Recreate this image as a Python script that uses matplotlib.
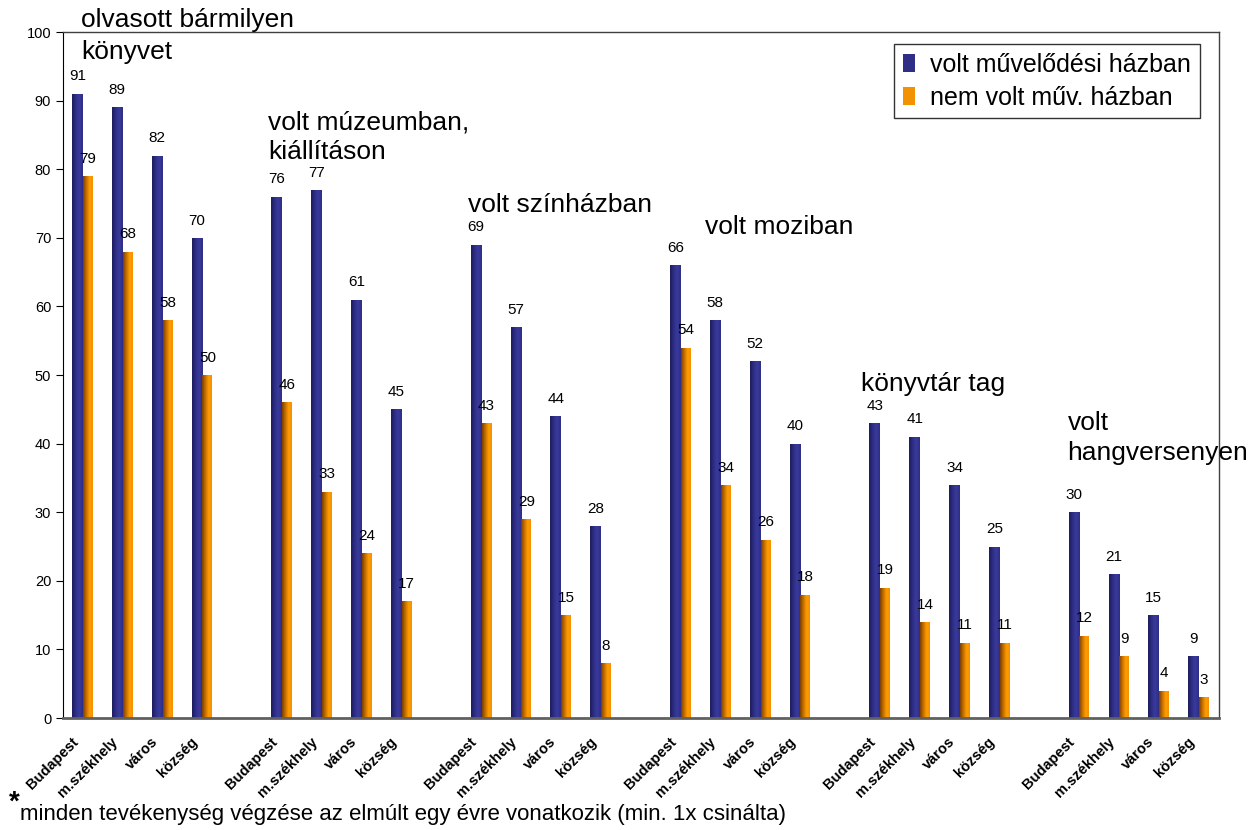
import numpy as np
import matplotlib.pyplot as plt
import matplotlib.transforms as mtrans
from matplotlib.colors import LinearSegmentedColormap
from matplotlib.patches import Patch

plt.rcParams['font.family'] = ['Liberation Sans', 'DejaVu Sans']

places = ['Budapest', 'm.székhely', 'város', 'község']
groups = ['olvasott bármilyen\nkönyvet', 'volt múzeumban,\nkiállításon', 'volt színházban',
          'volt moziban', 'könyvtár tag', 'volt\nhangversenyen']
muvhaz = [[91, 89, 82, 70], [76, 77, 61, 45], [69, 57, 44, 28],
          [66, 58, 52, 40], [43, 41, 34, 25], [30, 21, 15, 9]]
nem_muvhaz = [[79, 68, 58, 50], [46, 33, 24, 17], [43, 29, 15, 8],
              [54, 34, 26, 18], [19, 14, 11, 11], [12, 9, 4, 3]]
series_names = ['volt művelődési házban', 'nem volt műv. házban']

# group title positions (x in slot units, y top in value units)
title_pos = [(-0.05, 103.5), (4.64, 88.6), (9.66, 76.5), (15.6, 73.3), (19.52, 50.4), (24.7, 44.7)]

blue_cm = LinearSegmentedColormap.from_list('b', ['#1c1c5c', '#2e2e86', '#3a3a9c', '#2e2e86'])
orange_cm = LinearSegmentedColormap.from_list('o', ['#7a4000', '#c46e00', '#ff9c00', '#f59000'])

fig = plt.figure(figsize=(12.54, 8.30), dpi=100)
ax = fig.add_axes([0.0502, 0.1349, 0.9721 - 0.0502, 0.9614 - 0.1349])

w = 0.27
grad = np.linspace(0, 1, 50).reshape(1, -1)
xs, xlabels = [], []
for g in range(len(groups)):
    for c in range(4):
        x = g * 5 + c
        xs.append(x)
        xlabels.append(places[c])
        for val, off, wd, cm in [(muvhaz[g][c], -w, w, blue_cm), (nem_muvhaz[g][c], 0, 0.25, orange_cm)]:
            b = ax.bar(x + off, val, wd, align='edge', color='none', edgecolor='none')[0]
            im = ax.imshow(grad, extent=[x + off, x + off + wd, 0, val], aspect='auto', cmap=cm, zorder=2)
            im.set_clip_path(b)
            ax.text(x + off + wd / 2, val + 1.5, str(val), ha='center', va='bottom', fontsize=11)
    tx, ty = title_pos[g]
    ax.text(tx, ty, groups[g], ha='left', va='top', fontsize=19,
            linespacing=1.4 if g == 0 else 1.3, clip_on=False)

ax.set_xlim(-0.5, 28.5)
ax.set_ylim(0, 100)
ax.set_yticks(np.arange(0, 101, 10))
ax.tick_params(axis='y', labelsize=10.5, length=5, direction='out')
ax.set_xticks(xs)
ax.set_xticklabels(xlabels, rotation=45, ha='right', rotation_mode='anchor', fontsize=10.5, fontweight='bold')
ax.tick_params(axis='x', length=0, pad=12)
shift = mtrans.ScaledTranslation(-0.12, 0, fig.dpi_scale_trans)
for lab in ax.get_xticklabels():
    lab.set_transform(lab.get_transform() + shift)
for s in ['top', 'right']:
    ax.spines[s].set_color('#404040')
    ax.spines[s].set_linewidth(1)
ax.spines['left'].set_color('black')
ax.spines['bottom'].set_color('#606060')
ax.spines['bottom'].set_linewidth(2)

handles = [Patch(facecolor='#2e2e86', edgecolor='none'), Patch(facecolor='#f39200', edgecolor='none')]
leg = ax.legend(handles, series_names, loc='upper right', bbox_to_anchor=(0.9836, 0.9825),
                fontsize=18, frameon=True, fancybox=False, handlelength=0.5, handleheight=0.7,
                handletextpad=0.6, borderpad=0.35, labelspacing=0.35, borderaxespad=0)
leg.get_frame().set_edgecolor('black')
leg.get_frame().set_linewidth(1)

fig.text(0.007, 0.024, '*', fontsize=20, fontweight='bold', ha='left', va='baseline')
fig.text(0.016, 0.012, 'minden tevékenység végzése az elmúlt egy évre vonatkozik (min. 1x csinálta)',
         fontsize=16, ha='left', va='baseline')

fig.savefig('out.png', dpi=100)
